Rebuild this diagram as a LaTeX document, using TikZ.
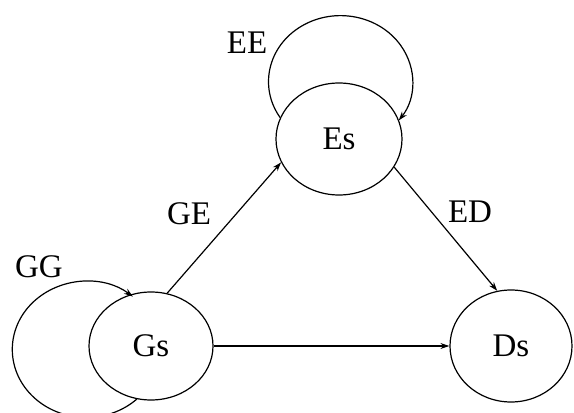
\documentclass[tikz,border=0pt]{standalone}
\usepackage{fontspec}
\setmainfont{Liberation Serif}
\usetikzlibrary{shapes.geometric,arrows.meta}
\begin{document}
\begin{tikzpicture}[x=1pt,y=1pt,
  state/.style={draw,ellipse,line width=1.2pt,inner sep=0pt,font=\fontsize{33}{36}\selectfont},
  lbl/.style={font=\fontsize{33}{36}\selectfont,inner sep=0pt},
  edge/.style={draw,line width=1.2pt,-{Stealth[length=9pt,width=6pt]}}]
\useasboundingbox (0,0) rectangle (574,413);
\node[state,minimum width=126pt,minimum height=112pt] (Es) at (339,274) {Es};
\node[state,minimum width=124pt,minimum height=108pt] (Gs) at (151,67) {Gs};
\node[state,minimum width=122pt,minimum height=112pt] (Ds) at (511,67) {Ds};
\node[lbl] (lEE) at (247,370) {EE};
\node[lbl] (lGG) at (39,146) {GG};
\node[lbl] (lGE) at (189,199) {GE};
\node[lbl] (lED) at (470,201) {ED};
\path[edge] (Es.160) arc[start angle=213,end angle=-36,x radius=72,y radius=66];
\path[edge] (Gs.255) arc[start angle=-47,end angle=-309,x radius=74,y radius=68];
\path[edge] (Gs.73) -- (Es.202);
\path[edge] (Es.333) -- (Ds.104);
\path[edge] (Gs.east) -- (Ds.west);
\end{tikzpicture}
\end{document}
